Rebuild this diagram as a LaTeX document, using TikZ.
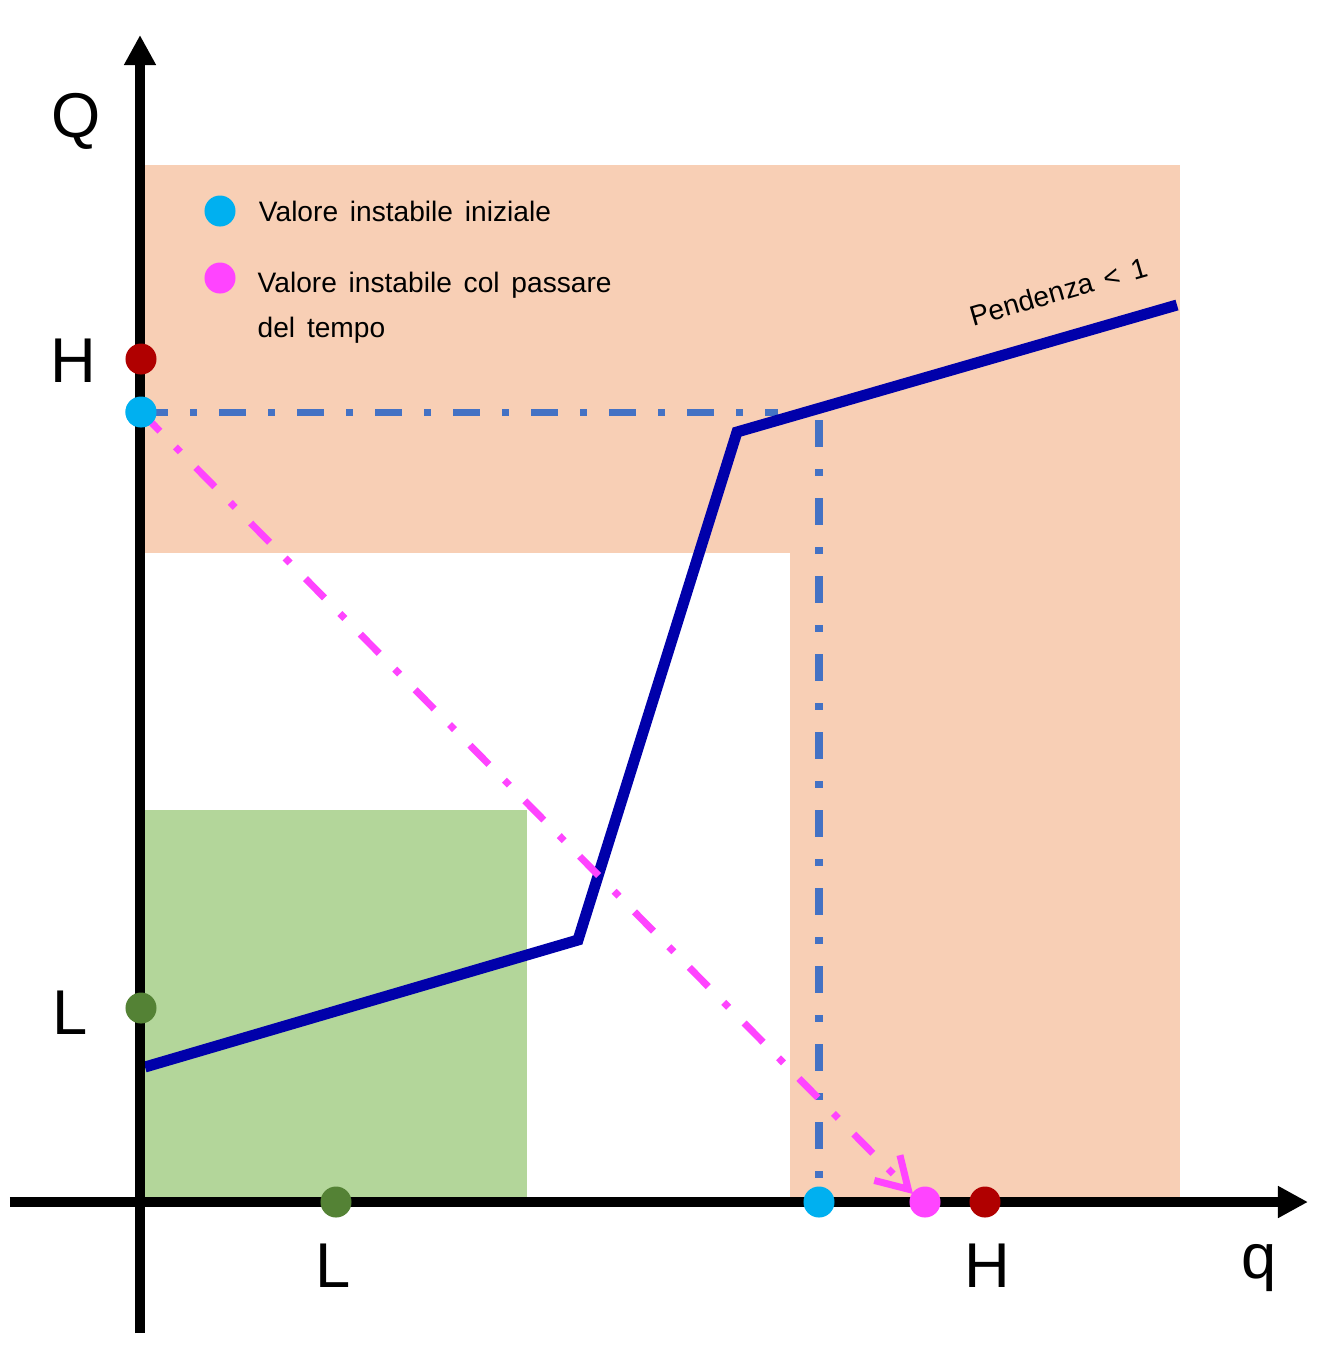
\documentclass[tikz,border=0pt]{standalone}
\usepackage{fontspec}
\setmainfont{Liberation Sans}
\usepackage{xcolor}
\usepackage{tikz}
\usetikzlibrary{positioning}
\usetikzlibrary{arrows.meta}

\definecolor{salmon}{RGB}{248,207,181}
\definecolor{lightgreen}{RGB}{179,214,154}
\definecolor{darkgreen}{RGB}{84,130,53}
\definecolor{darkred}{RGB}{176,0,0}
\definecolor{cyanblue}{RGB}{0,176,240}
\definecolor{pinkish}{RGB}{255,68,255}
\definecolor{curveblue}{RGB}{0,0,170}
\definecolor{dashblue}{RGB}{68,114,196}

\newcommand{\smallfont}{\fontsize{8}{12.8}\selectfont\spaceskip 0.42em\relax}

\begin{document}
\begin{tikzpicture}[x=0.01cm,y=-0.01cm]
    \tikzset{axis/.style={line width=0.1cm,-{Triangle[length=0.3cm,width=0.3cm]}}}
    \tikzset{dot/.style={shape=circle,fill=#1,minimum size=0.31cm,inner sep=0pt}}
    \tikzset{biglabel/.style={font=\fontsize{18}{20}\selectfont,inner sep=0pt,anchor=base}}
    \tikzset{smalltext/.style={font=\smallfont,inner sep=0pt}}
    \tikzset{dashdot/.style={line width=0.07cm,dash pattern=on 0.27cm off 0.22cm on 0.07cm off 0.22cm}}
    \tikzset{curve/.style={line width=0.11cm,curveblue}}
    \useasboundingbox (0,0) rectangle (1342,1365);

    % regions
    \fill[salmon] (140,165) rectangle (1180,553);
    \fill[salmon] (790,553) rectangle (1180,1202);
    \fill[lightgreen] (140,810) rectangle (527,1202);

    \coordinate (qstart) at (10,1202);
    \coordinate (qend) at (1308,1202);
    \coordinate (Qstart) at (140,1333);
    \coordinate (Qend) at (140,35);
    \coordinate (hend) at (778,412);
    \coordinate (vstart) at (819,420);
    \coordinate (vend) at (819,1200);
    \coordinate (tip) at (913,1194);
    \coordinate (c0) at (145,1067);
    \coordinate (c1) at (578,940);
    \coordinate (c2) at (737,432);
    \coordinate (c3) at (1177,305);

    \node[dot=cyanblue] (startQ) at (141,412) {};

    \draw[dashdot,dashblue] (startQ.center) -- (hend);
    \draw[dashdot,dashblue] (vstart) -- (vend);
    \draw[curve] (c0) -- (c1) -- (c2) -- node[pos=0.76,sloped,above=0.3cm,smalltext,text=black] {Pendenza < 1} (c3);
    \draw[dashdot,pinkish,-{Straight Barb[length=0.3cm,width=0.36cm]}] (startQ.center) -- (tip);

    \draw[axis] (qstart) -- (qend);
    \draw[axis] (Qstart) -- (Qend);

    \node[dot=cyanblue] (startQ2) at (141,412) {};
    \node[dot=darkred] (HQ) at (141,359) {};
    \node[dot=darkgreen] (LQ) at (141,1008) {};
    \node[dot=darkgreen] (Lq) at (336,1202) {};
    \node[dot=cyanblue] (startq) at (819,1202) {};
    \node[dot=pinkish] (endq) at (925,1202) {};
    \node[dot=darkred] (Hq) at (985,1202) {};

    % legend
    \node[dot=cyanblue] (leg1) at (220,211) {};
    \node[smalltext,right=0.22cm of leg1] (leg1text) {Valore instabile iniziale};
    \node[dot=pinkish] (leg2) at (220,278) {};
    \node[smalltext,align=left,anchor=north west] (leg2text) at (257,271) {Valore instabile col passare\\del tempo};

    \node[biglabel] (Qlab) at (76,137) {Q};
    \node[biglabel] (Hlab) at (73,382) {H};
    \node[biglabel] (Llab) at (70,1034) {L};
    \node[biglabel] (Lqlab) at (333,1287) {L};
    \node[biglabel] (Hqlab) at (987,1287) {H};
    \node[biglabel] (qlab) at (1259,1278) {q};
\end{tikzpicture}
\end{document}
